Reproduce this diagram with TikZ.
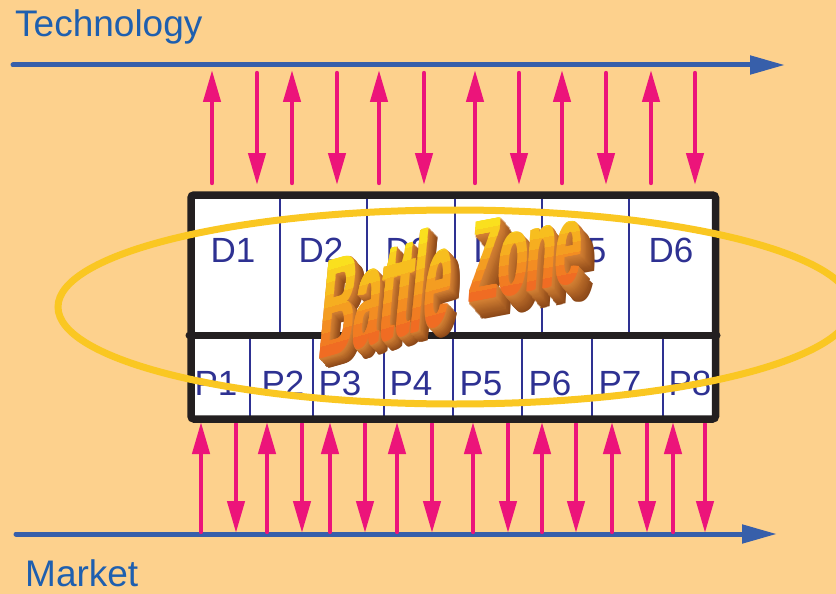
\documentclass[tikz,border=0pt]{standalone}
\usepackage{fontspec}
\setmainfont{Liberation Sans}
\usetikzlibrary{arrows.meta}

\definecolor{paper}{RGB}{253,209,141}
\definecolor{axisblue}{RGB}{55,95,170}
\definecolor{titleblue}{RGB}{30,95,175}
\definecolor{cellnavy}{RGB}{46,49,146}
\definecolor{framegray}{RGB}{35,31,32}
\definecolor{flowpink}{RGB}{236,20,122}
\definecolor{ringgold}{RGB}{250,199,34}
\definecolor{bztop}{RGB}{250,224,30}
\definecolor{bzbottom}{RGB}{240,108,35}
\definecolor{bzside}{RGB}{214,130,52}
\definecolor{bzdeep}{RGB}{140,72,24}

\begin{document}
\begin{tikzpicture}[
    x=1pt, y=-1pt,
    axis/.style={
        axisblue,
        line width=5pt,
        line cap=round,
        -{Triangle[length=35pt,width=18pt]}
    },
    flow/.style={
        flowpink,
        line width=4.4pt,
        line cap=round,
        -{Triangle[length=32pt,width=17pt]}
    },
    title/.style={
        text=titleblue,
        font=\fontsize{37}{37}\selectfont,
        anchor=base west,
        inner sep=0pt
    },
    cellname/.style={
        text=cellnavy,
        font=\fontsize{35}{35}\selectfont,
        anchor=base,
        inner sep=0pt
    },
    divider/.style={
        cellnavy,
        line width=2.6pt
    },
    ring/.style={
        ringgold,
        line width=7pt
    },
    bzface/.style={
        font=\fontsize{40}{40}\selectfont\bfseries,
        anchor=base west,
        inner sep=0pt,
        transform shape
    },
    battleat/.style={
        shift={(#1)}, x=1pt, y=1pt,
        cm={1.17,0.33,0.34,3.55,(0,0)}
    },
    zoneat/.style={
        shift={(#1)}, x=1pt, y=1pt,
        cm={1.16,0.22,0.2,2.9,(0,0)}
    }
]

\fill[paper] (0,0) rectangle (836,594);
\useasboundingbox (0,0) rectangle (836,594);

\node[title] (tech) at (15,37) {Technology};
\node[title] (market) at (25,586) {Market};

\coordinate (tech-start) at (13,65);
\coordinate (tech-end) at (785,65);
\coordinate (market-start) at (16,534);
\coordinate (market-end) at (777,534);
\draw[axis] (tech-start) -- (tech-end);
\draw[axis] (market-start) -- (market-end);

\foreach \x [count=\i] in {212,292,379,475,562,651} {
    \coordinate (tu\i-a) at (\x,183);
    \coordinate (tu\i-b) at (\x,70);
    \draw[flow] (tu\i-a) -- (tu\i-b);
}
\foreach \x [count=\i] in {257,337,424,519,606,695} {
    \coordinate (td\i-a) at (\x,73);
    \coordinate (td\i-b) at (\x,185);
    \draw[flow] (td\i-a) -- (td\i-b);
}
\foreach \x [count=\i] in {201,267,330,397,473,542,612,673} {
    \coordinate (mu\i-a) at (\x,532);
    \coordinate (mu\i-b) at (\x,422);
    \draw[flow] (mu\i-a) -- (mu\i-b);
}
\foreach \x [count=\i] in {236,302,365,432,508,576,647,705} {
    \coordinate (md\i-a) at (\x,424);
    \coordinate (md\i-b) at (\x,533);
    \draw[flow] (md\i-a) -- (md\i-b);
}

\fill[white] (191,195) rectangle (715.5,419);
\foreach \x in {280,367,455,542,629}
    \draw[divider] (\x,195) -- (\x,335);
\foreach \x in {250,313,384,453,522,592,663}
    \draw[divider] (\x,335) -- (\x,419);

\foreach \x [count=\i] in {233,321,408,496,584,671}
    \node[cellname] (d\i) at (\x,262) {D\i};
\foreach \x [count=\i] in {216,283,340,411,481,550,620,690}
    \node[cellname] (p\i) at (\x,395) {P\i};

\draw[framegray, line width=7.5pt, rounded corners=3pt] (191,195) rectangle (715.5,419);
\draw[framegray, line width=7pt, line cap=round] (189,335) -- (717,335);

\draw[ring] (455,307) ellipse [x radius=397pt, y radius=97pt];

\foreach \k in {16,...,1} {
    \pgfmathtruncatemacro\shade{100*\k/16}
    \begin{scope}[battleat={316+0.55*\k,360+0.6*\k}]
        \node[bzface, text=bzdeep!\shade!bzside] (battle-side-\k) at (0,0) {Battle};
        \node[bzface, text=bzdeep!\shade!bzside] (battle-side-\k-b) at (2.2,0) {Battle};
    \end{scope}
    \begin{scope}[zoneat={467+0.85*\k,303+1.05*\k}]
        \node[bzface, text=bzdeep!\shade!bzside] (zone-side-\k) at (0,0) {Zone};
        \node[bzface, text=bzdeep!\shade!bzside] (zone-side-\k-b) at (2.2,0) {Zone};
    \end{scope}
}
\foreach \b in {0,...,7} {
    \pgfmathsetmacro\lo{ifthenelse(\b==0,-20,3.6*\b)}
    \pgfmathsetmacro\hi{ifthenelse(\b==7,40,3.6*\b+4.6)}
    \pgfmathtruncatemacro\mix{100*\b/7}
    \foreach \s [count=\j] in {0,0.75,1.5,2.2} {
        \begin{scope}[battleat={316,360}]
            \clip (-5,\lo) rectangle (130,\hi);
            \node[bzface, text=bztop!\mix!bzbottom] (battle-\b-\j) at (\s,0) {Battle};
        \end{scope}
        \begin{scope}[zoneat={467,303}]
            \clip (-5,\lo) rectangle (130,\hi);
            \node[bzface, text=bztop!\mix!bzbottom] (zone-\b-\j) at (\s,0) {Zone};
        \end{scope}
    }
}

\end{tikzpicture}
\end{document}
